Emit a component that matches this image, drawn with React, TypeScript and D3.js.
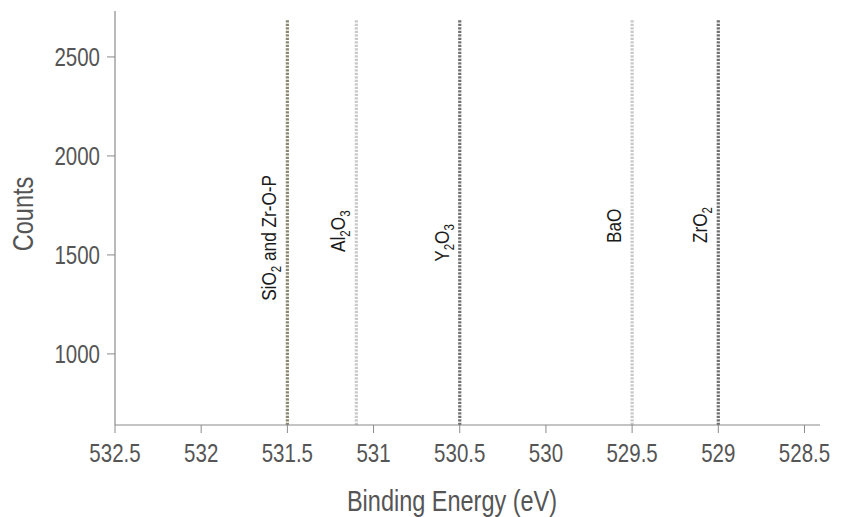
import React from "react";
import * as d3 from "d3";

// peak positions (eV) and their labels
const peakNames = ["SiO2 and Zr-O-P", "Al2O3", "Y2O3", "BaO", "ZrO2"];
const peakEnergies = [531.5, 531.1, 530.5, 529.5, 529.0];
const peakTops = [2690, 2690, 2690, 2690, 2690];
const labelCounts = [1268, 1515, 1465, 1560, 1560];
const peakColors = ["#8a8970", "#c9c9c9", "#707070", "#c9c9c9", "#707070"];

const xTicks = [532.5, 532, 531.5, 531, 530.5, 530, 529.5, 529, 528.5];
const yTicks = [1000, 1500, 2000, 2500];

const W = 845;
const H = 517;
const FONT = "'Liberation Sans', Arial, sans-serif";
const NARROW = 0.82; // squeeze text horizontally, like a condensed face

// split "Al2O3" into normal text and subscript digits
function chem(name: string) {
  const parts: { t: string; sub: boolean }[] = [];
  const words = name.split(" ");
  words.forEach((w, wi) => {
    const isFormula = /^[A-Z][A-Za-z0-9]*$/.test(w) && /\d/.test(w);
    const str = wi < words.length - 1 ? w + " " : w;
    if (!isFormula) {
      parts.push({ t: str, sub: false });
      return;
    }
    str.split(/(\d)/).forEach((p) => {
      if (p === "") return;
      parts.push({ t: p, sub: /^\d$/.test(p) });
    });
  });
  return parts;
}

type TxtProps = {
  x: number;
  y: number;
  rot?: number;
  size: number;
  anchor?: string;
  fill?: string;
  sx?: number;
  dy?: string;
  children: React.ReactNode;
};

function Txt({ x, y, rot = 0, size, anchor = "start", fill = "#555", sx = NARROW, dy, children }: TxtProps) {
  return (
    <text
      transform={`translate(${x},${y}) rotate(${rot}) scale(${sx},1)`}
      fontSize={size}
      textAnchor={anchor}
      fill={fill}
      dy={dy}
    >
      {children}
    </text>
  );
}

export default function App() {
  const x = d3.scaleLinear().domain([532.5, 528.41]).range([115, 820]);
  const y = d3.scaleLinear().domain([641, 2732]).range([425, 11]);
  const y0 = y(641);

  return (
    <svg
      width={W}
      height={H}
      style={{ position: "absolute", left: 0, top: 0, background: "#fff" }}
      fontFamily={FONT}
    >
      {/* peak lines */}
      {peakEnergies.map((e, i) => (
        <line
          key={"p" + i}
          x1={x(e)}
          x2={x(e)}
          y1={y0}
          y2={y(peakTops[i])}
          stroke={peakColors[i]}
          strokeWidth={3.2}
          strokeDasharray="2.2,1.3"
        />
      ))}

      {/* peak labels */}
      {peakEnergies.map((e, i) => {
        let inSub = false;
        return (
          <Txt key={"l" + i} x={x(e) - 11} y={y(labelCounts[i])} rot={-90} size={21} fill="#1a1a1a">
            {chem(peakNames[i]).map((p, j) => {
              let dy = 0;
              if (p.sub && !inSub) dy = 5;
              if (!p.sub && inSub) dy = -5;
              inSub = p.sub;
              return (
                <tspan key={j} dy={dy} fontSize={p.sub ? 14 : 21}>
                  {p.t}
                </tspan>
              );
            })}
          </Txt>
        );
      })}

      {/* axes */}
      <line x1={115} x2={115} y1={y(2732)} y2={y0} stroke="#8a8a8a" strokeWidth={1.2} />
      <line x1={x(532.5)} x2={x(528.41)} y1={y0} y2={y0} stroke="#8a8a8a" strokeWidth={1.2} />

      {yTicks.map((t) => (
        <g key={"y" + t}>
          <line x1={107} x2={115} y1={y(t)} y2={y(t)} stroke="#8a8a8a" strokeWidth={1} />
          <Txt x={100} y={y(t)} dy="0.36em" anchor="end" size={25}>
            {t}
          </Txt>
        </g>
      ))}

      {xTicks.map((t) => (
        <g key={"x" + t}>
          <line x1={x(t)} x2={x(t)} y1={y0} y2={y0 + 8} stroke="#8a8a8a" strokeWidth={1} />
          <Txt x={x(t)} y={462} anchor="middle" size={25}>
            {d3.format("")(t)}
          </Txt>
        </g>
      ))}

      <Txt x={33} y={214} rot={-90} anchor="middle" size={29} sx={0.81}>
        Counts
      </Txt>
      <Txt x={452} y={511} anchor="middle" size={29} sx={0.81}>
        Binding Energy (eV)
      </Txt>
    </svg>
  );
}
